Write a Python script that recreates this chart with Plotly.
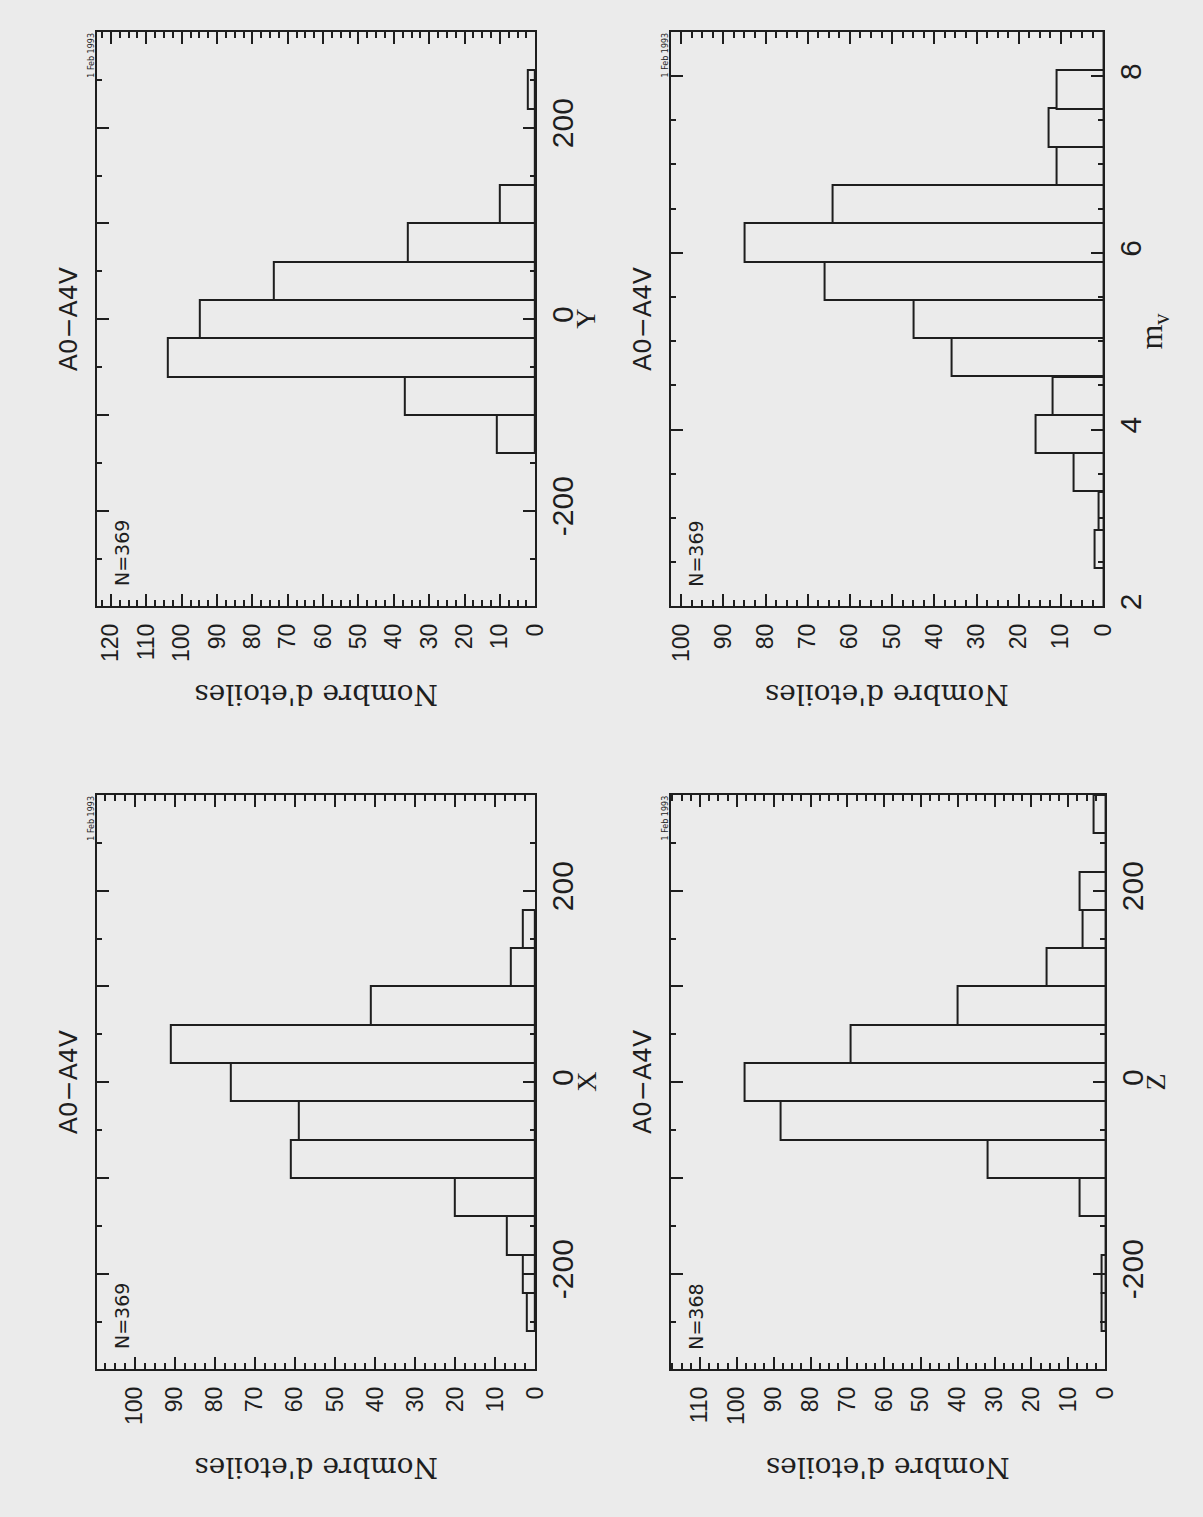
import plotly.graph_objects as go

W, H = 1203, 1517
PAPER = "#ebebeb"
INK = "#1e1e1e"

# histogram bin centres and star counts
x_bins = [-240, -200, -160, -120, -80, -40, 0, 40, 80, 120, 160]
x_counts = [2, 3, 7, 20, 61, 59, 76, 91, 41, 6, 3]
y_bins = [-120, -80, -40, 0, 40, 80, 120, 160, 200, 240]
y_counts = [11, 37, 104, 95, 74, 36, 10, 0, 0, 2]
z_bins = [-240, -200, -160, -120, -80, -40, 0, 40, 80, 120, 160, 200, 240, 280]
z_counts = [1, 1, 0, 7, 32, 88, 98, 69, 40, 16, 6, 7, 0, 3]
mv_bins = [2.22, 2.65, 3.08, 3.52, 3.95, 4.38, 4.82, 5.25, 5.68, 6.12, 6.55, 6.98, 7.42, 7.85, 8.28]
mv_counts = [0, 2, 1, 7, 16, 12, 36, 45, 66, 85, 64, 11, 13, 11, 0]

pos_ticks = [-200, -100, 0, 100, 200]
pos_labels = ["-200", " ", "0", " ", "200"]
mv_ticks = [2, 4, 6, 8]
mv_labels = ["2", "4", "6", "8"]

spectral = "A0\u2212A4V"
date_stamp = "1 Feb 1993"
count_title = "Nombre d'etoiles"

panels = [
	dict(bins=x_bins, counts=x_counts, width=40, vrange=[-300, 300], cmax=109.5,
		 box=(95, 539, 797, 1373), n="N=369", label="X", lsize=28,
		 ticks=(pos_ticks, pos_labels), minor=50),
	dict(bins=y_bins, counts=y_counts, width=40, vrange=[-300, 300], cmax=124,
		 box=(95, 539, 32, 608), n="N=369", label="Y", lsize=28,
		 ticks=(pos_ticks, pos_labels), minor=50),
	dict(bins=z_bins, counts=z_counts, width=40, vrange=[-300, 300], cmax=118,
		 box=(676, 1116, 797, 1373), n="N=368", label="Z", lsize=28,
		 ticks=(pos_ticks, pos_labels), minor=50),
	dict(bins=mv_bins, counts=mv_counts, width=6.5 / 15, vrange=[2, 8.5], cmax=102.5,
		 box=(676, 1114, 32, 608), n="N=369", label="m<sub>v</sub>", lsize=32,
		 ticks=(mv_ticks, mv_labels), minor=0.5),
]


def paper(x, y):
	return x / W, 1 - y / H


def note(text, x, y, size, angle, family="DejaVu Sans"):
	px, py = paper(x, y)
	return dict(text=text, x=px, y=py, xref="paper", yref="paper",
				showarrow=False, textangle=angle, xanchor="center", yanchor="middle",
				font=dict(family=family, size=size, color=INK))


fig = go.Figure()
annotations = []
layout = {}

for i, p in enumerate(panels):
	s = "" if i == 0 else str(i + 1)
	fl, fr, ft, fb = p["box"]
	fig.add_trace(go.Bar(x=p["counts"], y=p["bins"], orientation="h", width=p["width"],
						 marker=dict(color=PAPER, line=dict(color=INK, width=2)),
						 xaxis="x" + s, yaxis="y" + s, showlegend=False, hoverinfo="skip"))

	layout["xaxis" + s] = dict(
		domain=[fl / W, fr / W], anchor="y" + s, range=[p["cmax"], 0],
		showline=True, linecolor=INK, linewidth=2.2, mirror="allticks",
		ticks="inside", ticklen=12, tickwidth=1.8, tickcolor=INK,
		tickmode="linear", tick0=0, dtick=10, tickangle=-90, ticklabelstandoff=6,
		tickfont=dict(family="Liberation Sans", size=23, color=INK),
		showgrid=False, zeroline=False,
		minor=dict(ticks="inside", dtick=2.5, tick0=0, ticklen=6, tickwidth=1.6,
				   tickcolor=INK, showgrid=False))
	tv, tt = p["ticks"]
	layout["yaxis" + s] = dict(
		domain=[1 - fb / H, 1 - ft / H], anchor="x" + s, side="right", range=p["vrange"],
		showline=True, linecolor=INK, linewidth=2.2, mirror="allticks",
		ticks="inside", ticklen=12, tickwidth=1.8, tickcolor=INK,
		tickmode="array", tickvals=tv, ticktext=tt, tickangle=-90, ticklabelstandoff=0,
		tickfont=dict(family="Liberation Sans", size=30, color=INK),
		showgrid=False, zeroline=False,
		minor=dict(ticks="inside", dtick=p["minor"], tick0=0, ticklen=5, tickwidth=1.6,
				   tickcolor=INK, showgrid=False))

	mid = (ft + fb) / 2
	annotations.append(note(spectral, fl - 29, mid, 25, -90))
	annotations.append(note(p["n"], fl + 25, fb - 53, 19, -90))
	annotations.append(note(date_stamp, fl - 5, ft + 23, 8, -90))
	annotations.append(note(p["label"], fr + 51, mid + (12 if i == 3 else 0), p["lsize"], -90,
							"Liberation Serif"))
	annotations.append(note(count_title, (fl + fr) / 2, fb + (99 if ft > 400 else 89), 28, 180,
							"DejaVu Serif"))

fig.update_layout(
	width=W, height=H, margin=dict(l=0, r=0, t=0, b=0),
	paper_bgcolor=PAPER, plot_bgcolor=PAPER, bargap=0,
	annotations=annotations, **layout)

# drop the browser's default body margin so the page is edge to edge
fig.write_html("out.html", config={"displayModeBar": False},
			   post_script="document.body.style.margin='0';"
						   "document.body.style.overflow='hidden';"
						   "document.documentElement.style.overflow='hidden';")
